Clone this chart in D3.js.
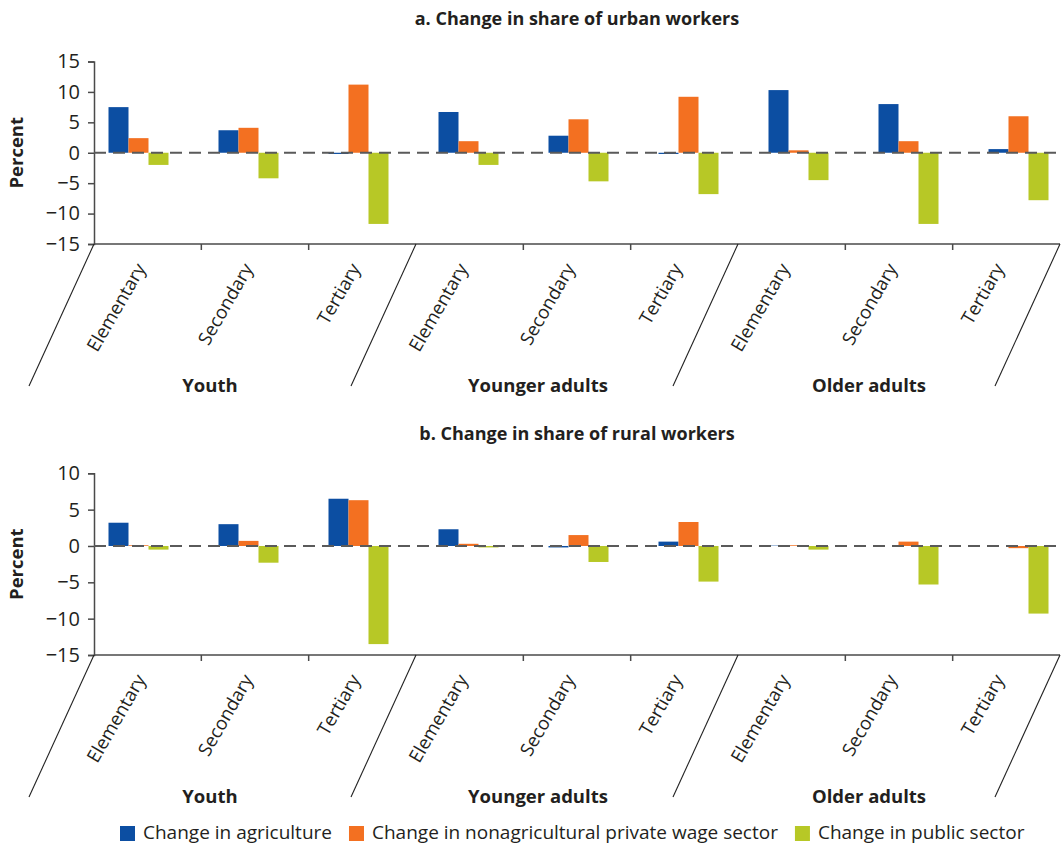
<!DOCTYPE html>
<html>
<head>
<meta charset="utf-8">
<script src="https://cdn.jsdelivr.net/npm/d3@7"></script>
<style>
  html, body { margin: 0; padding: 0; background: #fff; }
  svg { display: block; font-family: "Open Sans", "Noto Sans", sans-serif; }
</style>
</head>
<body>
<svg id="chart" width="1064" height="846"></svg>
<script>
// ---------------- data ----------------
const groups = ["Youth", "Younger adults", "Older adults"];
const levels = ["Elementary", "Secondary", "Tertiary"];
const seriesNames = [
  "Change in agriculture",
  "Change in nonagricultural private wage sector",
  "Change in public sector"
];
const seriesColors = ["#0c4ea2", "#f37021", "#b7c826"];

// panel a: urban workers (9 categories: group x level)
const urbanAgriculture = [7.5, 3.7, -0.2, 6.7, 2.8, -0.2, 10.3, 8.0, 0.6];
const urbanPrivate     = [2.4, 4.1, 11.2, 1.9, 5.5, 9.2, 0.4, 1.9, 6.0];
const urbanPublic      = [-2.0, -4.2, -11.7, -2.0, -4.7, -6.8, -4.5, -11.7, -7.8];

// panel b: rural workers
const ruralAgriculture = [3.2, 3.0, 6.5, 2.3, -0.2, 0.6, 0.05, 0.0, 0.0];
const ruralPrivate     = [0.1, 0.7, 6.3, 0.3, 1.5, 3.3, 0.1, 0.6, -0.3];
const ruralPublic      = [-0.5, -2.3, -13.5, -0.2, -2.2, -4.9, -0.5, -5.3, -9.3];

const urbanTicks = [-15, -10, -5, 0, 5, 10, 15];
const ruralTicks = [-15, -10, -5, 0, 5, 10];

const panelTitles = ["a. Change in share of urban workers", "b. Change in share of rural workers"];
const yAxisTitle = "Percent";

// ---------------- layout ----------------
const svg = d3.select("#chart");
const textColor = "#231f20";
const axisColor = "#4a4a4a";
const plotL = 94, plotR = 1060;

const keys = [];
groups.forEach(g => levels.forEach(l => keys.push(g + "|" + l)));

const xCat = d3.scaleBand().domain(keys).range([plotL, plotR]);
const xGroup = d3.scaleBand().domain(groups).range([plotL, plotR]);
const xBar = d3.scaleBand().domain(keys).range([83.5, 1073.5]);
const xSeries = d3.scaleBand().domain(seriesNames).range([0, 60]);
const groupLabelShift = [-45, -39, -30];

const panels = [
  { title: panelTitles[0], titleY: 20, domain: [-15, 15], range: [244, 61.5], ticks: urbanTicks,
    series: [urbanAgriculture, urbanPrivate, urbanPublic] },
  { title: panelTitles[1], titleY: 435, domain: [-15, 10], range: [655, 473.3], ticks: ruralTicks,
    series: [ruralAgriculture, ruralPrivate, ruralPublic] }
];

panels.forEach(p => {
  const y = d3.scaleLinear().domain(p.domain).range(p.range);
  const g = svg.append("g");
  const axisY = y(p.domain[0]);

  // title
  g.append("text")
    .attr("x", (plotL + plotR) / 2).attr("y", p.titleY)
    .attr("text-anchor", "middle").attr("dominant-baseline", "middle")
    .attr("font-weight", "bold").attr("font-size", 18).attr("fill", textColor)
    .text(p.title);

  // y axis title
  g.append("text")
    .attr("transform", `translate(18,${(p.range[0] + p.range[1]) / 2}) rotate(-90)`)
    .attr("text-anchor", "middle").attr("dominant-baseline", "middle")
    .attr("font-weight", "bold").attr("font-size", 18.5).attr("fill", textColor)
    .text(yAxisTitle);

  // bars
  const rows = [];
  p.series.forEach((vals, si) => vals.forEach((v, ci) => rows.push({ k: keys[ci], s: seriesNames[si], v, si })));
  g.append("g").selectAll("rect").data(rows).join("rect")
    .attr("x", d => xBar(d.k) + xBar.bandwidth() / 2 - 30 + xSeries(d.s))
    .attr("width", xSeries.bandwidth())
    .attr("y", d => y(Math.max(0, d.v)))
    .attr("height", d => Math.abs(y(d.v) - y(0)))
    .attr("fill", d => seriesColors[d.si]);

  // y axis
  const yAxis = d3.axisLeft(y).tickValues(p.ticks).tickSize(6).tickPadding(8);
  const ya = g.append("g").attr("transform", `translate(${plotL},0)`).call(yAxis);
  ya.select(".domain").attr("stroke", axisColor).attr("stroke-width", 1.5);
  ya.selectAll(".tick line").attr("stroke", axisColor).attr("stroke-width", 1.5);
  ya.selectAll(".tick text").attr("font-size", 20).attr("fill", textColor)
    .attr("font-family", "'Open Sans', sans-serif");

  // zero dashed line
  g.append("line")
    .attr("x1", plotL).attr("x2", plotR).attr("y1", y(0)).attr("y2", y(0))
    .attr("stroke", "#5a5a5a").attr("stroke-width", 2).attr("stroke-dasharray", "12,7");

  // x axis line
  g.append("line")
    .attr("x1", plotL).attr("x2", plotR).attr("y1", axisY).attr("y2", axisY)
    .attr("stroke", axisColor).attr("stroke-width", 1.5);

  // category ticks (inside groups)
  const innerTicks = keys.filter((k, i) => i % 3 !== 0);
  g.append("g").selectAll("line").data(innerTicks).join("line")
    .attr("x1", d => xCat(d)).attr("x2", d => xCat(d))
    .attr("y1", axisY).attr("y2", axisY + 6)
    .attr("stroke", axisColor).attr("stroke-width", 1.5);

  // slanted group separators
  const seps = groups.map(gr => xGroup(gr)).concat([plotR]);
  g.append("g").selectAll("line").data(seps).join("line")
    .attr("x1", d => d).attr("y1", axisY)
    .attr("x2", d => d - 65).attr("y2", axisY + 142)
    .attr("stroke", "#222").attr("stroke-width", 1.1);

  // category labels
  g.append("g").selectAll("text").data(keys).join("text")
    .attr("transform", d => `translate(${xCat(d) + xCat.bandwidth() / 2 - 7},${axisY + 21}) rotate(-60)`)
    .attr("text-anchor", "end").attr("dy", "0.35em")
    .attr("font-size", 18.5).attr("fill", textColor)
    .text(d => d.split("|")[1]);

  // group labels
  g.append("g").selectAll("text").data(groups).join("text")
    .attr("x", (d, i) => xGroup(d) + xGroup.bandwidth() / 2 + groupLabelShift[i])
    .attr("y", axisY + 143)
    .attr("text-anchor", "middle").attr("dominant-baseline", "middle")
    .attr("font-weight", "bold").attr("font-size", 18.5).attr("fill", textColor)
    .text(d => d);
});

// ---------------- legend ----------------
const legend = svg.append("g").attr("transform", "translate(120,826)");
let lx = 0;
seriesNames.forEach((name, i) => {
  const item = legend.append("g").attr("transform", `translate(${lx},0)`);
  item.append("rect").attr("width", 15).attr("height", 15).attr("fill", seriesColors[i]);
  const t = item.append("text").attr("x", 23).attr("y", 7.5)
    .attr("dominant-baseline", "middle").attr("font-size", 19).attr("fill", textColor)
    .text(name);
  lx += 23 + t.node().getComputedTextLength() + 17;
});
</script>
</body>
</html>
